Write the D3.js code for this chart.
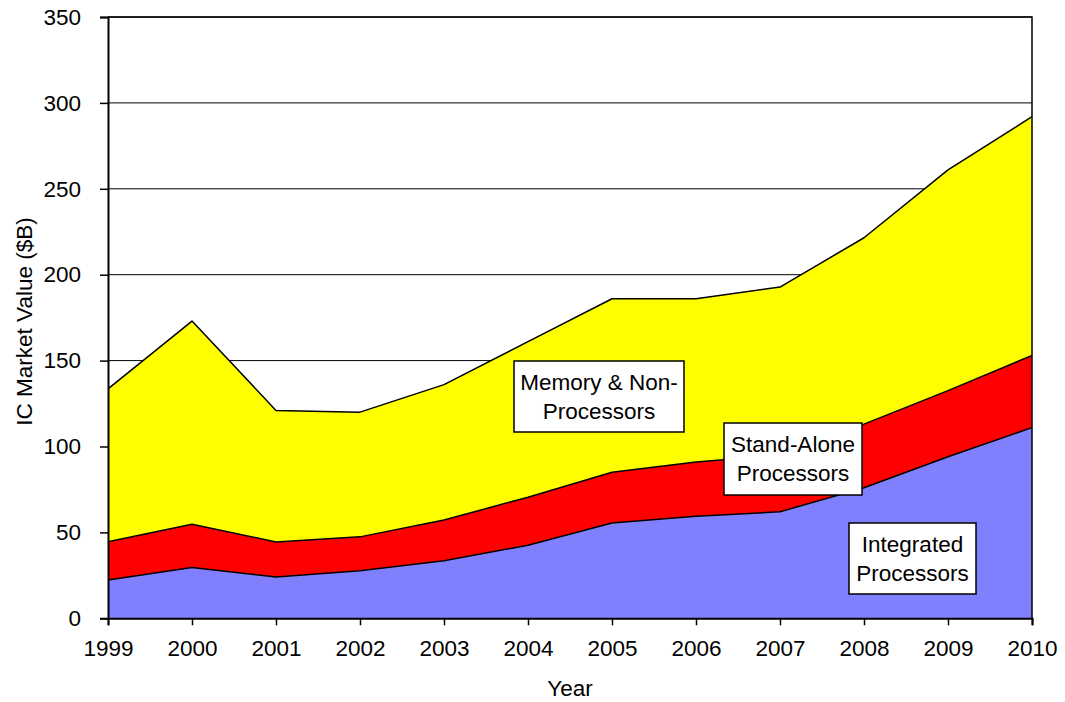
<!DOCTYPE html>
<html>
<head>
<meta charset="utf-8">
<script src="https://cdn.jsdelivr.net/npm/d3@7"></script>
<style>
  html, body { margin: 0; padding: 0; background: #fff; }
  svg { display: block; font-family: "Liberation Sans", Arial, sans-serif; }
</style>
</head>
<body>
<svg id="chart" width="1065" height="702"></svg>
<script>
// IC market value by segment, $B
const years = [1999, 2000, 2001, 2002, 2003, 2004, 2005, 2006, 2007, 2008, 2009, 2010];
const integrated = [22.3, 29.6, 24.0, 27.7, 33.5, 42.5, 55.5, 59.4, 62.0, 76.0, 94.0, 111.0];
const standAlone = [22.2, 25.2, 20.4, 19.7, 23.7, 28.0, 29.5, 31.6, 33.0, 37.0, 38.5, 42.0];
const memoryNonProc = [89.0, 118.2, 76.6, 72.6, 78.8, 90.5, 101.0, 95.0, 97.8, 108.5, 128.5, 139.0];
const yTicks = [0, 50, 100, 150, 200, 250, 300, 350];

const seriesKeys = ["integrated", "standAlone", "memoryNonProc"];
const seriesColors = { integrated: "#8080FF", standAlone: "#FF0000", memoryNonProc: "#FFFF00" };

const FONT = 22.5;

const rows = years.map((y, i) => ({
  year: y,
  integrated: integrated[i],
  standAlone: standAlone[i],
  memoryNonProc: memoryNonProc[i]
}));

const svg = d3.select("#chart");
const plot = { left: 108, right: 1032, top: 17, bottom: 618.3 };

const x = d3.scaleLinear().domain([1999, 2010]).range([plot.left, plot.right]);
const y = d3.scaleLinear().domain([0, 350]).range([plot.bottom, plot.top]);

// horizontal gridlines
svg.append("g")
  .selectAll("line")
  .data(yTicks.filter(t => t > 0))
  .join("line")
  .attr("x1", plot.left).attr("x2", plot.right)
  .attr("y1", d => y(d)).attr("y2", d => y(d))
  .attr("stroke", "#000").attr("stroke-width", 1);

// stacked areas
const stack = d3.stack().keys(seriesKeys);
const layers = stack(rows);
const area = d3.area()
  .x(d => x(d.data.year))
  .y0(d => y(d[0]))
  .y1(d => y(d[1]));
const topLine = d3.line()
  .x(d => x(d.data.year))
  .y(d => y(d[1]));

svg.append("g")
  .selectAll("path")
  .data(layers)
  .join("path")
  .attr("d", area)
  .attr("fill", d => seriesColors[d.key]);

svg.append("g")
  .selectAll("path")
  .data(layers)
  .join("path")
  .attr("d", topLine)
  .attr("fill", "none")
  .attr("stroke", "#000")
  .attr("stroke-width", 1.5)
  .attr("stroke-linejoin", "round");

// plot frame: top and right edges
svg.append("path")
  .attr("d", `M${plot.left},${plot.top}H${plot.right}V${plot.bottom}`)
  .attr("fill", "none").attr("stroke", "#000").attr("stroke-width", 1.5);

// axes
const yAxis = d3.axisLeft(y).tickValues(yTicks).tickSize(8).tickPadding(19).tickFormat(d3.format("d"));
const gy = svg.append("g").attr("transform", `translate(${plot.left},0)`).call(yAxis);
gy.select(".domain").attr("stroke", "#000").attr("stroke-width", 2);
gy.selectAll(".tick line").attr("stroke", "#000").attr("stroke-width", 1.5);
gy.selectAll(".tick text").attr("font-size", FONT).attr("fill", "#000")
  .attr("font-family", "Liberation Sans, Arial, sans-serif");

const xAxis = d3.axisBottom(x).tickValues(years).tickSize(7).tickPadding(15).tickFormat(d3.format("d"));
const gx = svg.append("g").attr("transform", `translate(0,${plot.bottom})`).call(xAxis);
gx.select(".domain").attr("stroke", "#000").attr("stroke-width", 2);
gx.selectAll(".tick line").attr("stroke", "#000").attr("stroke-width", 1.5);
gx.selectAll(".tick text").attr("font-size", FONT).attr("fill", "#000")
  .attr("font-family", "Liberation Sans, Arial, sans-serif");

// axis titles
svg.append("text")
  .attr("x", 570).attr("y", 696)
  .attr("text-anchor", "middle")
  .attr("font-size", FONT)
  .text("Year");

svg.append("text")
  .attr("transform", "translate(32,321.5) rotate(-90)")
  .attr("text-anchor", "middle")
  .attr("font-size", FONT)
  .text("IC Market Value ($B)");

// series labels in boxes
const labels = [
  { lines: ["Memory & Non-", "Processors"], box: [514, 361, 170, 71] },
  { lines: ["Stand-Alone", "Processors"], box: [724, 423, 138, 72] },
  { lines: ["Integrated", "Processors"], box: [849, 523, 127, 71] }
];
const lg = svg.append("g");
labels.forEach(l => {
  const [bx, by, bw, bh] = l.box;
  lg.append("rect")
    .attr("x", bx).attr("y", by).attr("width", bw).attr("height", bh)
    .attr("fill", "#fff").attr("stroke", "#000").attr("stroke-width", 1.5);
  l.lines.forEach((t, i) => {
    lg.append("text")
      .attr("x", bx + bw / 2)
      .attr("y", by + 29 + i * 28.5)
      .attr("text-anchor", "middle")
      .attr("font-size", FONT)
      .text(t);
  });
});
</script>
</body>
</html>
